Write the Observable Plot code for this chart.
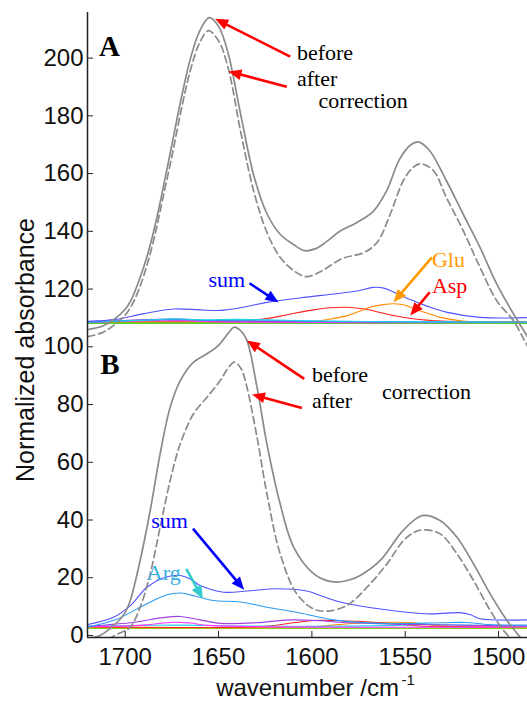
<!DOCTYPE html>
<html><head><meta charset="utf-8">
<script src="https://cdn.jsdelivr.net/npm/d3@7"></script>
<script src="https://cdn.jsdelivr.net/npm/@observablehq/plot@0.6"></script>
<style>html,body{margin:0;padding:0;background:#fff}#chart svg{display:block}</style>
</head><body><div id="chart"></div>
<script>
// ---------- data: [wavenumber, absorbance] ----------
const beforeA = [[1720,106],[1712,107.2],[1706,109.5],[1700,113],[1697,116],[1692,124],[1688,132],[1684,142],[1680,154],[1675,170],[1670,186],[1665,200],[1660,209.5],[1655,214],[1650,211],[1645,202],[1638,180],[1631,159],[1624,146],[1617,139],[1610,135.5],[1604,133.3],[1598,134],[1592,136.5],[1585,140],[1576,143],[1567,147],[1560,154],[1553,165],[1547,170],[1543,171],[1537,168],[1528,157.6],[1519,146],[1510,134.5],[1501,121.8],[1492,111.4],[1485,104],[1480,98]];
const afterA = [[1720,103.5],[1712,105],[1706,107.5],[1700,111],[1696,115],[1692,121],[1688,129],[1684,139],[1680,151],[1675,166],[1670,182],[1665,196],[1660,205.5],[1655.4,209.5],[1650,206],[1645,197],[1638,174],[1631,153.5],[1624,139.5],[1617,131],[1610,126.5],[1603,124.3],[1595,126.2],[1584,130.5],[1572,132.7],[1565,136.2],[1558,146],[1551,157.6],[1546,162],[1542,163.4],[1535,161.1],[1528,151.8],[1519,140.3],[1510,127.6],[1501,116],[1492,109],[1486,102],[1480,95]];
const sumA = [[1720,108.8],[1705,109.5],[1690,111.5],[1674,113.1],[1660,112.8],[1649,112.6],[1636,113.8],[1624,115.4],[1603,117.2],[1588,118.3],[1576,119.3],[1567,120.6],[1562,120.4],[1556,118.9],[1546,116],[1538,114],[1528,112],[1510,110.2],[1485,110.1]];
const aspA = [[1720,108.6],[1660,108.7],[1640,108.9],[1624,109.8],[1612,111.3],[1599,112.8],[1590,113.5],[1581,113.7],[1571,113],[1563,111.8],[1556,110.8],[1546,109.7],[1530,108.9],[1485,108.7]];
const gluA = [[1720,108.5],[1610,108.5],[1599,108.8],[1590,109.6],[1581,110.8],[1575,112.2],[1569,113.7],[1562,114.6],[1556,114.9],[1550,114.4],[1545,113.1],[1538,111.6],[1531,110.2],[1519,108.9],[1485,108.6]];
const cyanA = [[1720,108.6],[1690,109.2],[1674,109.7],[1660,109.4],[1640,109.5],[1620,109.3],[1600,109],[1560,108.7],[1485,108.6]];
const argA = [[1720,108.5],[1674,109.4],[1650,109.1],[1625,109.2],[1600,108.8],[1485,108.5]];
const magentaA = [[1720,108.4],[1680,109.2],[1665,109.0],[1650,108.6],[1485,108.4]];
const purpleA = [[1720,108.5],[1674,109.6],[1655,109.0],[1630,108.8],[1485,108.5]];
const greenA = [[1720,108.2],[1485,108.2]];
const yellowA = [[1720,108.1],[1485,108.1]];

const beforeB = [[1720,-1],[1713.4,0],[1708,2.5],[1704.4,4.5],[1700,8],[1697.3,12.1],[1692,26],[1686.6,43.3],[1681.3,62.9],[1675.9,79.1],[1670.5,88.3],[1663.4,94.7],[1656.2,97.6],[1650,100.5],[1645,104.5],[1641.6,106.8],[1638,105.5],[1634.8,102.2],[1629.4,86],[1624.1,66.4],[1617,45.6],[1609.8,30.6],[1599.1,21.4],[1592,19],[1586.6,18.5],[1580,19.2],[1574.1,20.8],[1563.4,26],[1552.7,35.2],[1545.6,39.8],[1540.2,41.6],[1531.3,39.8],[1522.3,34],[1513.4,24.8],[1504.5,14.4],[1495.5,5.2],[1488.4,-0.6],[1484,-4]];
const afterB = [[1720,-4],[1710,-1.5],[1704,0.5],[1697.3,2.9],[1692,9.8],[1686.6,21.4],[1681.3,37.5],[1675.9,53.7],[1670.5,66.4],[1663.4,76.8],[1656.2,82.5],[1649.1,88.3],[1645,92.5],[1641.6,94.7],[1638,92.5],[1634.8,86],[1629.4,68.7],[1624.1,49.1],[1617,28.3],[1608.1,14.4],[1599.1,9.2],[1592,8.4],[1581.2,10.4],[1570.5,16.7],[1559.8,24.8],[1550.9,32.9],[1545,35.8],[1540.2,36.6],[1531.3,35.2],[1522.3,28.3],[1513.4,19],[1504.5,8.7],[1497.3,1.7],[1490,-3],[1484,-6]];
const sumB = [[1720,3.8],[1706.3,6.3],[1697,10.5],[1688.4,16.7],[1680,19.8],[1670.5,20.8],[1665,19.5],[1659.8,17.3],[1647.3,15],[1634.8,15.4],[1618.7,16.2],[1602.7,15.4],[1594,13.5],[1584.8,11.6],[1563.4,9.2],[1536.6,7.5],[1521,7.9],[1515,7.2],[1509.8,5.8],[1485,5.4]];
const argB = [[1720,2.9],[1705,5.5],[1688.4,11],[1678,14],[1670.5,14.7],[1662,13.6],[1652.7,12.1],[1638.4,11.6],[1624.1,9.8],[1606.3,7.8],[1588.4,5.4],[1563,4.2],[1530,4.4],[1518,4.5],[1505,3.8],[1485,3.6]];
const purpleB = [[1720,3.2],[1695,4.6],[1680,6.2],[1670.5,6.6],[1660,5.4],[1649,4.2],[1630,4.4],[1612,5.4],[1595,5.1],[1584.8,4.6],[1560,4],[1545,3.8],[1485,3.3]];
const magentaB = [[1720,3],[1690,3.6],[1674,4.6],[1665,4.3],[1655,3.5],[1485,3]];
const redB = [[1720,3],[1625,3.2],[1610,4.4],[1599,5.2],[1581,5.0],[1565,4.5],[1555,4],[1540,3.2],[1485,3]];
const orangeB = [[1720,2.9],[1600,3],[1585,3.8],[1570,4.4],[1555,4.6],[1545,4.4],[1535,3.5],[1520,3.1],[1485,3]];
const cyanB = [[1720,3.2],[1690,3.5],[1670,3.6],[1640,3.3],[1560,3.4],[1540,3.8],[1520,3.6],[1485,3.2]];
const greenB = [[1720,2.6],[1485,2.6]];
const yellowB = [[1720,2.4],[1485,2.4]];

const xTicks = [1700,1650,1600,1550,1500];
const yTicks = [0,20,40,60,80,100,120,140,160,180,200];
const panelLetters = ["A","B"];
const panelLetterWn = [1714,1713.4];
const panelLetterAbs = [203.8,93.8];

const labelTexts = ["before","after","correction","sum","Glu","Asp","before","after","correction","sum","Arg"];
const labelWn  = [1608,1608,1596.4,1655.4,1535.7,1535.7,1600,1600,1562.5,1686.1,1688.4];
const labelAbs = [201.9,192.7,185.0,123.3,130.2,121.2,90.4,81.4,84.2,39.5,21.5];

const arrowTargets = ["before","after","sum","Glu","Asp","before","after","sum","Arg"];
const arrowTailWn  = [1611.6,1613.4,1633.4,1535.7,1536.9,1604.1,1605.3,1663.7,1667.3];
const arrowTailAbs = [200.5,190.1,122,131,118.9,88.9,78.8,37,23.1];
const arrowTipWn   = [1651.8,1644.7,1617.9,1556.3,1547.3,1634.8,1632.1,1636.3,1658.4];
const arrowTipAbs  = [213.6,195.4,115.4,115.4,110.8,102.2,83.5,15.8,12.7];

// ---------- layout / styles ----------
const W = 527, H = 701, ML = 87, MR = 0, MT = 12, MB = 64;
const xDomain = [1720.2, 1484.5];
const yDomain = [-0.7, 215.8];
const kx = (W - ML - MR) / (xDomain[0] - xDomain[1]);
const ky = (H - MT - MB) / (yDomain[1] - yDomain[0]);
const SANS = "Liberation Sans, Arial, Helvetica, sans-serif";
const SERIF = "Liberation Serif, Times New Roman, serif";
const GRAY = "#8a8a8a";

const series = [
  {pts: aspA, stroke: "#ff2222"}, {pts: gluA, stroke: "#ff8a00"},
  {pts: yellowA, stroke: "#d4dc00"}, {pts: greenA, stroke: "#33cc33"},
  {pts: magentaA, stroke: "#ff33ff"}, {pts: purpleA, stroke: "#a040e0"},
  {pts: argA, stroke: "#2b9cf2"}, {pts: cyanA, stroke: "#22d0e8"},
  {pts: sumA, stroke: "#5252ff"},
  {pts: yellowB, stroke: "#d4dc00"}, {pts: greenB, stroke: "#33cc33"},
  {pts: orangeB, stroke: "#ff8a00"}, {pts: redB, stroke: "#ff2222"},
  {pts: cyanB, stroke: "#22d0e8"}, {pts: magentaB, stroke: "#ff33ff"},
  {pts: purpleB, stroke: "#a040e0"}, {pts: argB, stroke: "#2b9cf2"},
  {pts: sumB, stroke: "#5252ff"},
  {pts: beforeA, stroke: GRAY, width: 1.7}, {pts: afterA, stroke: GRAY, width: 1.7, dash: "7,4"},
  {pts: beforeB, stroke: GRAY, width: 1.7}, {pts: afterB, stroke: GRAY, width: 1.7, dash: "7,4"}
];
const textColor = {before: "#000", after: "#000", correction: "#000", sum: "#0000ff", Glu: "#ff9900", Asp: "#ff0000", Arg: "#35b0e0"};
const arrowColor = {before: "#ff0000", after: "#ff0000", sum: "#0000ff", Glu: "#ff9900", Asp: "#ff0000", Arg: "#33cccc"};
const HEAD = 13;

const labels = labelTexts.map((t, i) => ({t, x: labelWn[i], y: labelAbs[i]}));
const letters = panelLetters.map((t, i) => ({t, x: panelLetterWn[i], y: panelLetterAbs[i]}));
const arrows = arrowTargets.map((name, i) => {
  const x1 = arrowTailWn[i], y1 = arrowTailAbs[i], x2 = arrowTipWn[i], y2 = arrowTipAbs[i];
  const dxp = -(x2 - x1) * kx, dyp = -(y2 - y1) * ky;
  const len = Math.hypot(dxp, dyp);
  const f = (HEAD * 0.6) / len;
  return {name, x1, y1, x2, y2, xs: x2 + (x1 - x2) * f, ys: y2 + (y1 - y2) * f,
          angle: Math.atan2(dxp, -dyp) * 180 / Math.PI};
});
const headSymbol = {
  draw(ctx, size) {
    const L = 2 * Math.sqrt(size / Math.PI), w = L * 0.42;
    ctx.moveTo(0, 0); ctx.lineTo(-w, L); ctx.lineTo(w, L); ctx.closePath();
  }
};

const marks = [];
for (const s of series) {
  marks.push(Plot.line(s.pts, {x: d => d[0], y: d => d[1], stroke: s.stroke,
    strokeWidth: s.width || 1.1, strokeDasharray: s.dash, curve: "catmull-rom", clip: true}));
}
marks.push(
  Plot.link(arrows, {x1: "x1", y1: "y1", x2: "xs", y2: "ys", stroke: d => arrowColor[d.name], strokeWidth: 2.6}),
  Plot.dot(arrows, {x: "x2", y: "y2", r: HEAD / 2, symbol: headSymbol, rotate: "angle", fill: d => arrowColor[d.name], stroke: "none"}),
  Plot.text(labels, {x: "x", y: "y", text: "t", fill: d => textColor[d.t], textAnchor: "start", fontSize: 22, fontFamily: SERIF}),
  Plot.text(letters, {x: "x", y: "y", text: "t", textAnchor: "start", fontSize: 29, fontWeight: "bold", fontFamily: SERIF, fill: "#000"}),
  Plot.ruleX([xDomain[0]], {stroke: "#222", strokeWidth: 1.5}),
  Plot.ruleY([yDomain[0]], {stroke: "#222", strokeWidth: 1.5}),
  Plot.ruleY(yTicks, {y: d => d, x1: xDomain[0], x2: xDomain[0] - 6 / kx, stroke: "#222"}),
  Plot.ruleX(xTicks, {x: d => d, y1: yDomain[0], y2: yDomain[0] + 6 / ky, stroke: "#222"}),
  Plot.axisY(yTicks, {tickSize: 0, tickPadding: 4, fontSize: 24, label: null, tickFormat: d => String(d), fill: "#111"}),
  Plot.axisX(xTicks, {tickSize: 0, tickPadding: 10, fontSize: 24, label: null, tickFormat: d => String(d), fill: "#111"}),
  Plot.text(["Normalized absorbance"], {frameAnchor: "left", dx: -62, dy: 25, rotate: -90, textAnchor: "middle", lineAnchor: "middle", fontSize: 25, fill: "#111"}),
  Plot.text(["wavenumber /cm"], {frameAnchor: "bottom", dy: 50.5, textAnchor: "middle", lineAnchor: "middle", fontSize: 24, fill: "#111"}),
  Plot.text(["-1"], {frameAnchor: "bottom", dx: 94, dy: 43, textAnchor: "start", lineAnchor: "middle", fontSize: 15, fill: "#111"})
);

const chart = Plot.plot({
  width: W, height: H, marginLeft: ML, marginRight: MR, marginTop: MT, marginBottom: MB,
  x: {domain: xDomain}, y: {domain: yDomain},
  style: {fontFamily: SANS, background: "#fff", overflow: "visible"},
  marks
});
document.getElementById("chart").appendChild(chart);
</script>
</body></html>
